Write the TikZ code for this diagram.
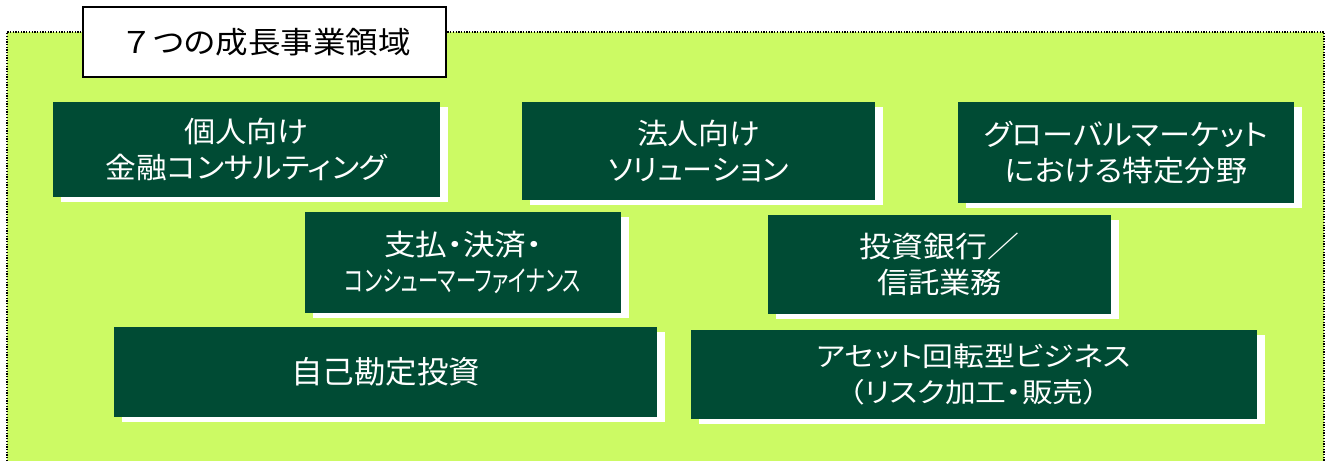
\documentclass[tikz,border=0pt]{standalone}
\usepackage{fontspec}
\setmainfont{Noto Sans CJK JP}[RawFeature=+palt]
\newfontfamily\fullwidthfont{Noto Sans CJK JP}
\usepackage{graphicx}
\usetikzlibrary{shadows}
\definecolor{dgreen}{RGB}{0,75,52}
\definecolor{lgreen}{RGB}{204,250,100}
\newcommand{\fitw}[2]{\resizebox{#1pt}{\height}{#2}}
\tikzset{
  gbox/.style={fill=dgreen, text=white, inner sep=0pt, align=center,
    font=\fontsize{29}{36}\selectfont,
    drop shadow={shadow xshift=8pt, shadow yshift=-5pt, fill=white, opacity=1}},
  titlebox/.style={draw=black, line width=1.5pt, fill=white, inner sep=0pt,
    font=\fontsize{30}{36}\selectfont, text=black},
  areaborder/.style={line width=1.3pt, dash pattern=on 1.3pt off 1.4pt}
}
\begin{document}
\begin{tikzpicture}[x=1pt,y=-1pt]
\path[use as bounding box, fill=white] (0,0) rectangle (1329,461);
\fill[lgreen] (7,32) rectangle (1324,461);
\draw[areaborder] (7,461) -- (7,32) -- (1324,32) -- (1324,461);

\node[titlebox, minimum width=363pt, minimum height=70pt] (title) at (264.5,42)
  {\hspace*{3pt}\fitw{290}{{\fullwidthfont ７}つの成長事業領域}};

\node[gbox, minimum width=387pt, minimum height=95pt] (b1) at (246.5,149.5)
  {\fitw{124}{個人向け}\\\fitw{281}{金融コンサルティング}};
\node[gbox, minimum width=353pt, minimum height=98pt] (b2) at (698.5,151)
  {\fitw{123}{法人向け}\\\fitw{181}{ソリューション}};
\node[gbox, minimum width=336pt, minimum height=101pt] (b3) at (1126,152.5)
  {\fitw{284}{グローバルマーケット}\\\fitw{242}{における特定分野}};
\node[gbox, minimum width=316pt, minimum height=101pt] (b4) at (463,262.5)
  {\fitw{158}{支払・決済・}\\\fitw{236}{コンシューマーファイナンス}};
\node[gbox, minimum width=343pt, minimum height=99pt] (b5) at (939.5,264.5)
  {\fitw{160}{投資銀行／}\\\fitw{125}{信託業務}};
\node[gbox, minimum width=543pt, minimum height=90pt, font=\fontsize{31}{36}\selectfont] (b6) at (385.5,372)
  {\fitw{189}{自己勘定投資}};
\node[gbox, minimum width=566pt, minimum height=89pt, font=\fontsize{27}{36}\selectfont] (b7) at (974,374.5)
  {\fitw{314}{アセット回転型ビジネス}\\\fitw{250}{（リスク加工・販売）}};
\end{tikzpicture}
\end{document}
